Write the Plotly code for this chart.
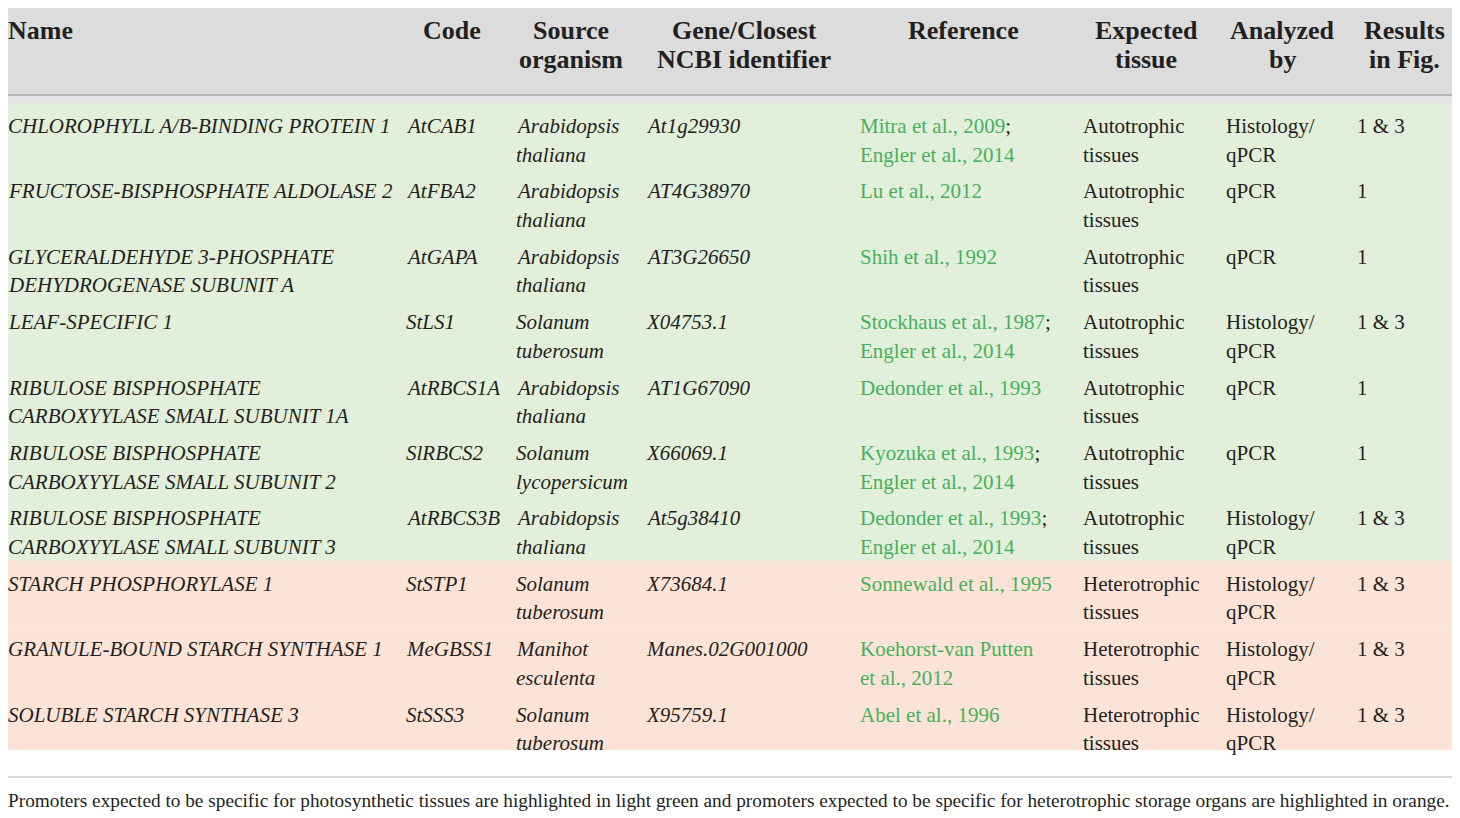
import plotly.graph_objects as go

# table content, one entry per promoter row
names = [
    "CHLOROPHYLL A/B-BINDING PROTEIN 1",
    "FRUCTOSE-BISPHOSPHATE ALDOLASE 2",
    "GLYCERALDEHYDE 3-PHOSPHATE\nDEHYDROGENASE SUBUNIT A",
    "LEAF-SPECIFIC 1",
    "RIBULOSE BISPHOSPHATE\nCARBOXYYLASE SMALL SUBUNIT 1A",
    "RIBULOSE BISPHOSPHATE\nCARBOXYYLASE SMALL SUBUNIT 2",
    "RIBULOSE BISPHOSPHATE\nCARBOXYYLASE SMALL SUBUNIT 3",
    "STARCH PHOSPHORYLASE 1",
    "GRANULE-BOUND STARCH SYNTHASE 1",
    "SOLUBLE STARCH SYNTHASE 3",
]
codes = ["AtCAB1", "AtFBA2", "AtGAPA", "StLS1", "AtRBCS1A",
         "SlRBCS2", "AtRBCS3B", "StSTP1", "MeGBSS1", "StSSS3"]
organisms = [
    "Arabidopsis\nthaliana", "Arabidopsis\nthaliana", "Arabidopsis\nthaliana",
    "Solanum\ntuberosum", "Arabidopsis\nthaliana", "Solanum\nlycopersicum",
    "Arabidopsis\nthaliana", "Solanum\ntuberosum", "Manihot\nesculenta",
    "Solanum\ntuberosum",
]
identifiers = ["At1g29930", "AT4G38970", "AT3G26650", "X04753.1", "AT1G67090",
               "X66069.1", "At5g38410", "X73684.1", "Manes.02G001000", "X95759.1"]
# citation lines; a trailing ";" is printed black, the rest green
references = [
    ["Mitra et al., 2009;", "Engler et al., 2014"],
    ["Lu et al., 2012"],
    ["Shih et al., 1992"],
    ["Stockhaus et al., 1987;", "Engler et al., 2014"],
    ["Dedonder et al., 1993"],
    ["Kyozuka et al., 1993;", "Engler et al., 2014"],
    ["Dedonder et al., 1993;", "Engler et al., 2014"],
    ["Sonnewald et al., 1995"],
    ["Koehorst-van Putten", "et al., 2012"],
    ["Abel et al., 1996"],
]
tissues = ["Autotrophic\ntissues"] * 7 + ["Heterotrophic\ntissues"] * 3
analyzed = ["Histology/\nqPCR", "qPCR", "qPCR", "Histology/\nqPCR", "qPCR",
            "qPCR", "Histology/\nqPCR", "Histology/\nqPCR", "Histology/\nqPCR",
            "Histology/\nqPCR"]
results = ["1 & 3", "1", "1", "1 & 3", "1", "1", "1 & 3", "1 & 3", "1 & 3", "1 & 3"]

headers = ["Name", "Code", "Source\norganism", "Gene/Closest\nNCBI identifier",
           "Reference", "Expected\ntissue", "Analyzed\nby", "Results\nin Fig."]
footnote = ("Promoters expected to be specific for photosynthetic tissues are highlighted "
            "in light green and promoters expected to be specific for heterotrophic storage "
            "organs are highlighted in orange.")

# ---- layout constants (page pixels) ----
W, H = 1460, 818
PAGE_OFF = 8  # default body margin of the html page
PAD = 2       # annotation inner padding
FONT = "Liberation Serif"
INK = "#231f20"
LINK = "#46b15a"
GREEN_BG = "#e2efda"
ORANGE_BG = "#fbe4d7"
col_left = [8, 406, 516, 646, 860, 1083, 1226, 1357]
head_center = [None, 452, 571, 744, 963, 1146, 1282, 1404]
TABLE_L, TABLE_R = 8, 1452
HEAD_TOP, HEAD_BOT, BODY_TOP = 8, 95, 103
ROW_H = 65.4
LINE_H = 28.5
BODY_BOT = 750

fig = go.Figure()
fig.add_scatter(x=[PAGE_OFF], y=[PAGE_OFF], mode="markers", marker=dict(opacity=0),
                hoverinfo="skip", showlegend=False)

shapes = []
annotations = []


def text(x, y, s, size=21, italic=False, bold=False, anchor="left", color=INK):
    s = s.replace("&", "&amp;")
    if italic:
        s = f"<i>{s}</i>"
    if bold:
        s = f"<b>{s}</b>"
    annotations.append(dict(x=x, y=y, xref="x", yref="y", text=s, showarrow=False,
                            xanchor=anchor, yanchor="middle",
                            xshift=-PAD if anchor == "left" else 0,
                            font=dict(family=FONT, size=size, color=color)))


def rect(x0, y0, x1, y1, color):
    shapes.append(dict(type="rect", xref="x", yref="y", x0=x0, x1=x1, y0=y0, y1=y1,
                       fillcolor=color, line=dict(width=0), layer="below"))


def hline(y, color, width=1.2):
    shapes.append(dict(type="line", xref="x", yref="y", x0=TABLE_L, x1=TABLE_R,
                       y0=y, y1=y, line=dict(color=color, width=width), layer="below"))


# header band
rect(TABLE_L, HEAD_TOP, TABLE_R, HEAD_BOT, "#dcdcdc")
rect(TABLE_L, HEAD_BOT, TABLE_R, BODY_TOP, "#e5e5e5")
hline(HEAD_BOT, "#a8a8a8", 1.5)

for c, h in enumerate(headers):
    for k, line in enumerate(h.split("\n")):
        y = 30 + k * 29
        if head_center[c] is None:
            text(col_left[c], y, line, size=26, bold=True)
        else:
            text(head_center[c], y, line, size=26, bold=True, anchor="center")

# body rows
n = len(names)
for i in range(n):
    top = BODY_TOP + i * ROW_H
    bot = BODY_BOT if i == n - 1 else top + ROW_H + 0.5
    bg = GREEN_BG if tissues[i].startswith("Auto") else ORANGE_BG
    rect(TABLE_L, top, TABLE_R, bot, bg)

    y0 = top + 23
    cells = [
        (names[i], True), (codes[i], True), (organisms[i], True),
        (identifiers[i], True), (None, False), (tissues[i], False),
        (analyzed[i], False), (results[i], False),
    ]
    for c, (val, ital) in enumerate(cells):
        if c == 4:
            for k, ref in enumerate(references[i]):
                tail = ""
                if ref.endswith(";"):
                    ref, tail = ref[:-1], ";"
                s = f"<span style='color:{LINK}'>{ref}</span>{tail}"
                annotations.append(dict(x=col_left[c], y=y0 + k * LINE_H, xref="x",
                                        yref="y", text=s, showarrow=False,
                                        xanchor="left", yanchor="middle", xshift=-PAD,
                                        font=dict(family=FONT, size=21, color=INK)))
            continue
        for k, line in enumerate(val.split("\n")):
            text(col_left[c], y0 + k * LINE_H, line, italic=ital)

# bottom rule + footnote
hline(777, "#b4b4b4", 1.2)
text(TABLE_L, 800, footnote, size=19.3)

fig.update_layout(
    width=W - PAGE_OFF, height=H - PAGE_OFF,
    margin=dict(l=0, r=0, t=0, b=0),
    paper_bgcolor="white", plot_bgcolor="white",
    xaxis=dict(range=[PAGE_OFF, W], visible=False, fixedrange=True),
    yaxis=dict(range=[H, PAGE_OFF], visible=False, fixedrange=True),
    shapes=shapes, annotations=annotations,
    showlegend=False,
)

fig.write_html("out.html")
